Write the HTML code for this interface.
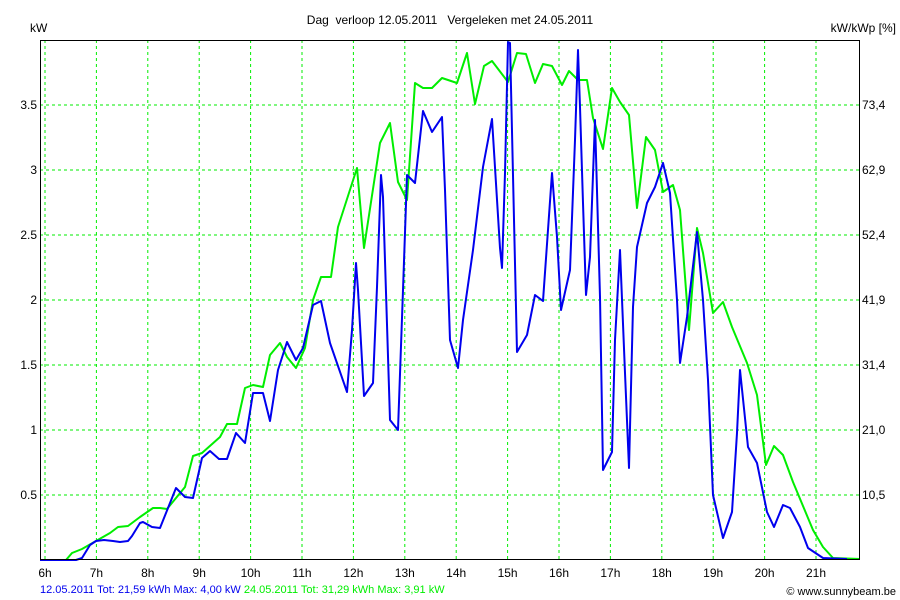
<!DOCTYPE html>
<html><head><meta charset="utf-8"><style>body{margin:0;background:#fff}svg{display:block}</style></head><body>
<svg width="900" height="600" xmlns="http://www.w3.org/2000/svg" font-family="Liberation Sans, Arial, sans-serif" font-size="12">
<rect width="900" height="600" fill="#fff"/>
<g stroke="#00ee00" stroke-width="1" stroke-dasharray="3,3" fill="none">
<path d="M45,40V560M96.4,40V560M147.8,40V560M199.2,40V560M250.6,40V560M302,40V560M353.4,40V560M404.8,40V560M456.2,40V560M507.6,40V560M559,40V560M610.4,40V560M661.8,40V560M713.2,40V560M764.6,40V560M816,40V560"/>
<path d="M40,105H859M40,170H859M40,235H859M40,300H859M40,365H859M40,430H859M40,495H859"/>
</g>
<polyline fill="none" stroke="#00ee00" stroke-width="2" stroke-linejoin="round" points="40,560 66,560 72,553 82,549 96,541 110,533 118,527 128,526 132,523 140,517 153,508 160,508 167,509 185,487 193,456 202,453 220,437 227,424 237,424 245,388 253,385 263,387 270,355 280,343 287,357 296,368 305,348 313,300 321,277 331,277 338,227 357,168 364,248 380,143 390,123 398,182 407,200 415,83 423,88 432,88 442,78 457,83 467,53 475,104 484,66 492,61 508,82 517,53 526,54 535,83 543,64 552,66 562,85 569,71 578,80 587,80 593,118 603,149 612,88 620,102 629,115 637,208 646,137 655,150 663,192 673,185 680,210 689,330 697,228 703,253 713,313 723,302 732,327 747,363 757,395 766,465 774,446 783,455 793,482 813,530 823,547 833,558 860,559"/>
<polyline fill="none" stroke="#0000ee" stroke-width="2" stroke-linejoin="round" points="40,560 76,560 82,558 90,545 96,541 104,540 113,541 120,542 128,541 132,536 140,523 143,522 152,527 160,528 176,488 185,497 193,498 202,458 210,451 219,459 227,459 236,433 245,443 253,393 263,393 270,421 278,370 287,342 296,360 303,348 313,305 321,301 330,343 347,392 352,330 356,263 358,290 364,396 373,383 377,287 381,175 383,197 390,420 398,430 403,290 407,175 415,183 423,111 432,132 442,117 445,190 450,340 458,368 463,320 473,250 483,167 492,119 500,248 502,268 505,173 508,42 510,43 517,352 527,335 535,295 543,301 552,173 557,237 561,310 570,270 575,140 578,50 580,107 583,203 586,295 590,257 595,120 600,297 603,470 612,452 615,340 620,250 625,373 629,468 633,307 637,247 647,203 655,187 663,163 670,193 677,300 680,363 687,317 697,232 703,300 708,380 713,495 723,538 732,512 737,433 740,370 748,447 757,463 767,512 774,527 783,505 790,508 800,527 808,548 823,558 847,559"/>
<rect x="40.5" y="40.5" width="819" height="519" fill="none" stroke="#000" stroke-width="1"/>
<text x="450" y="24" text-anchor="middle" style="white-space:pre" xml:space="preserve">Dag  verloop 12.05.2011   Vergeleken met 24.05.2011</text>
<text x="30" y="32">kW</text>
<text x="896" y="32" text-anchor="end">kW/kWp [%]</text>
<g text-anchor="end">
<text x="37" y="109">3.5</text><text x="37" y="174">3</text><text x="37" y="239">2.5</text><text x="37" y="304">2</text><text x="37" y="369">1.5</text><text x="37" y="434">1</text><text x="37" y="499">0.5</text>
</g>
<g>
<text x="862" y="109">73,4</text><text x="862" y="174">62,9</text><text x="862" y="239">52,4</text><text x="862" y="304">41,9</text><text x="862" y="369">31,4</text><text x="862" y="434">21,0</text><text x="862" y="499">10,5</text>
</g>
<g text-anchor="middle">
<text x="45" y="577">6h</text><text x="96.4" y="577">7h</text><text x="147.8" y="577">8h</text><text x="199.2" y="577">9h</text><text x="250.6" y="577">10h</text><text x="302" y="577">11h</text><text x="353.4" y="577">12h</text><text x="404.8" y="577">13h</text><text x="456.2" y="577">14h</text><text x="507.6" y="577">15h</text><text x="559" y="577">16h</text><text x="610.4" y="577">17h</text><text x="661.8" y="577">18h</text><text x="713.2" y="577">19h</text><text x="764.6" y="577">20h</text><text x="816" y="577">21h</text>
</g>
<text x="40" y="593" font-size="11"><tspan fill="#0000ee">12.05.2011 Tot: 21,59 kWh Max: 4,00 kW </tspan><tspan fill="#00ee00">24.05.2011 Tot: 31,29 kWh Max: 3,91 kW</tspan></text>
<text x="896" y="595" font-size="11" text-anchor="end">© www.sunnybeam.be</text>
</svg>
</body></html>
